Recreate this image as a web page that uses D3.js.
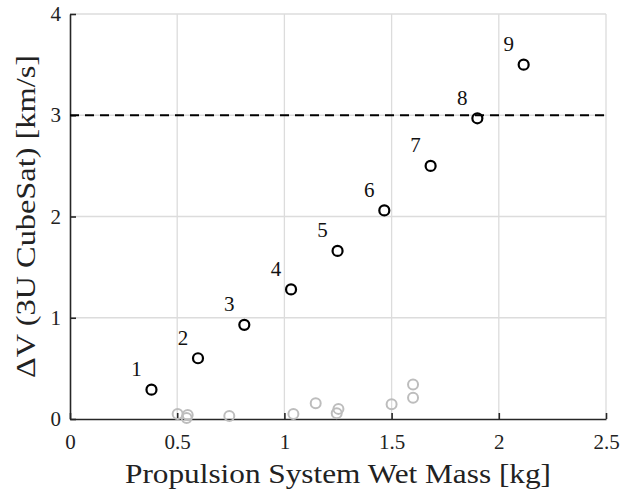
<!DOCTYPE html>
<html>
<head>
<meta charset="utf-8">
<script src="https://cdn.jsdelivr.net/npm/d3@7"></script>
<style>
  body { margin: 0; background: #fff; }
</style>
</head>
<body>
<div id="chart"></div>
<script>
// numbered designs (black circles)
const massNum = [0.38, 0.597, 0.813, 1.031, 1.248, 1.466, 1.682, 1.90, 2.116];
const dvNum = [0.29, 0.60, 0.93, 1.28, 1.66, 2.06, 2.50, 2.97, 3.50];
const labelNum = ["1", "2", "3", "4", "5", "6", "7", "8", "9"];

// other systems (grey circles)
const massOther = [0.502, 0.549, 0.544, 0.743, 1.042, 1.146, 1.252, 1.244, 1.50, 1.60, 1.60];
const dvOther = [0.05, 0.04, 0.01, 0.03, 0.05, 0.155, 0.10, 0.056, 0.145, 0.21, 0.34];

const dvTarget = 3;
const xTicks = [0, 0.5, 1, 1.5, 2, 2.5];
const yTicks = [0, 1, 2, 3, 4];

const serif = '"Liberation Serif", "Times New Roman", "DejaVu Serif", serif';

const margin = { top: 14, right: 15, bottom: 76, left: 70 },
      width = 621 - margin.left - margin.right,
      height = 495 - margin.top - margin.bottom;

const x = d3.scaleLinear().domain([0, 2.5]).range([0, width]);
const y = d3.scaleLinear().domain([0, 4]).range([height, 0]);

const svg = d3.select("#chart")
    .append("svg")
    .attr("width", 621)
    .attr("height", 495)
    .style("font-family", serif)
  .append("g")
    .attr("transform", "translate(" + margin.left + "," + margin.top + ")");

// grid
svg.selectAll(".vgrid")
    .data(xTicks.slice(1))
  .enter().append("line")
    .attr("x1", d => x(d)).attr("x2", d => x(d))
    .attr("y1", 0).attr("y2", height)
    .attr("stroke", "#dcdcdc").attr("stroke-width", 1.3);

svg.selectAll(".hgrid")
    .data(yTicks.slice(1))
  .enter().append("line")
    .attr("x1", 0).attr("x2", width)
    .attr("y1", d => y(d)).attr("y2", d => y(d))
    .attr("stroke", "#dcdcdc").attr("stroke-width", 1.3);

// axes
const fmt = d3.format("");
const xAxis = svg.append("g")
    .attr("transform", "translate(0," + height + ")")
    .call(d3.axisBottom(x).tickValues(xTicks).tickSizeInner(-6).tickSizeOuter(0).tickPadding(15).tickFormat(fmt));
const yAxis = svg.append("g")
    .call(d3.axisLeft(y).tickValues(yTicks).tickSizeInner(-6).tickSizeOuter(0).tickPadding(9).tickFormat(fmt));

[xAxis, yAxis].forEach(a => {
  a.attr("font-family", null);
  a.select(".domain").attr("stroke", "#262626").attr("stroke-width", 1.6);
  a.selectAll(".tick line").attr("stroke", "#262626").attr("stroke-width", 1.6);
  a.selectAll(".tick text")
    .style("font-family", serif)
    .style("font-size", "21px").attr("fill", "#222");
});

// target line
svg.append("line")
    .attr("x1", x(0)).attr("x2", x(2.5))
    .attr("y1", y(dvTarget)).attr("y2", y(dvTarget))
    .attr("stroke", "#000").attr("stroke-width", 2.2)
    .attr("stroke-dasharray", "9,6");

// grey points
svg.selectAll(".other")
    .data(massOther.map((m, i) => ({ m: m, v: dvOther[i] })))
  .enter().append("circle")
    .attr("cx", d => x(d.m)).attr("cy", d => y(d.v))
    .attr("r", 5)
    .attr("fill", "none").attr("stroke", "#bdbdbd").attr("stroke-width", 2);

// numbered points
const pts = massNum.map((m, i) => ({ m: m, v: dvNum[i], l: labelNum[i] }));
svg.selectAll(".num")
    .data(pts)
  .enter().append("circle")
    .attr("cx", d => x(d.m)).attr("cy", d => y(d.v))
    .attr("r", 5)
    .attr("fill", "none").attr("stroke", "#000").attr("stroke-width", 2.2);

svg.selectAll(".lbl")
    .data(pts)
  .enter().append("text")
    .attr("x", d => x(d.m) - 15)
    .attr("y", d => y(d.v) - 21)
    .attr("dy", "0.35em")
    .attr("text-anchor", "middle")
    .attr("fill", "#111")
    .style("font-family", serif)
    .style("font-size", "21px")
    .text(d => d.l);

// axis titles
svg.append("text")
    .attr("x", width / 2)
    .attr("y", height + 64)
    .attr("text-anchor", "middle")
    .attr("fill", "#222")
    .attr("textLength", 426)
    .attr("lengthAdjust", "spacingAndGlyphs")
    .style("font-family", serif)
    .style("font-size", "27px")
    .text("Propulsion System Wet Mass [kg]");

svg.append("text")
    .attr("transform", "rotate(-90)")
    .attr("x", -(216.5 - margin.top))
    .attr("y", -35)
    .attr("text-anchor", "middle")
    .attr("fill", "#222")
    .attr("textLength", 323)
    .attr("lengthAdjust", "spacingAndGlyphs")
    .style("font-family", serif)
    .style("font-size", "27px")
    .text("ΔV (3U CubeSat) [km/s]");
</script>
</body>
</html>
